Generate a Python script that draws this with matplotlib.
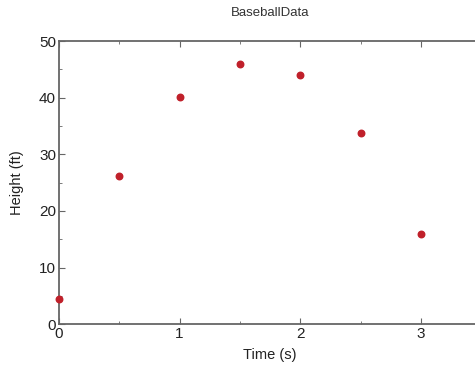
import matplotlib
matplotlib.use("Agg")
import matplotlib.pyplot as plt
from matplotlib.ticker import MultipleLocator

# data
time_s = [0, 0.5, 1.0, 1.5, 2.0, 2.5, 3.0]
height_ft = [4.5, 26.1, 40.2, 46.0, 44.0, 33.7, 15.9]

plt.rcParams["font.family"] = ["Liberation Sans", "DejaVu Sans"]

fig = plt.figure(figsize=(4.75, 3.73), dpi=100)
ax = fig.add_axes([0.124, 0.131, 0.889, 0.759])

ax.scatter(time_s, height_ft, s=22, color="#c0202a", zorder=3, clip_on=False)

ax.set_xlim(0, 3.5)
ax.set_ylim(0, 50)
ax.xaxis.set_major_locator(MultipleLocator(1))
ax.xaxis.set_minor_locator(MultipleLocator(0.5))
ax.yaxis.set_major_locator(MultipleLocator(10))
ax.yaxis.set_minor_locator(MultipleLocator(5))

for s in ax.spines.values():
    s.set_color("#666666")
    s.set_linewidth(1.3)

ax.tick_params(which="both", direction="in", top=True, right=True,
               color="#666666", labelcolor="#222222", labelsize=11, pad=2)
ax.tick_params(which="major", length=4)
ax.tick_params(which="minor", length=2)

ax.set_xlabel("Time (s)", fontsize=10.5, labelpad=5, color="#222222")
ax.set_ylabel("Height (ft)", fontsize=10.5, labelpad=11, color="#222222")
ax.set_title("BaseballData", fontsize=9.5, pad=18, color="#333333")

fig.savefig("out.png", dpi=100)
